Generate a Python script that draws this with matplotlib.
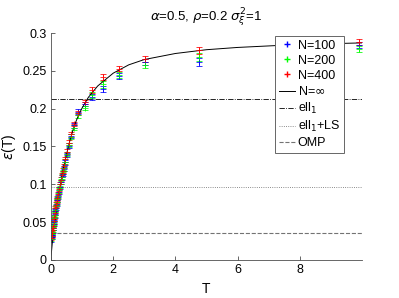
import numpy as np
import matplotlib
matplotlib.use("Agg")
import matplotlib.pyplot as plt
from matplotlib.lines import Line2D

# sample points (T) shared by the three finite-N series
T = [0.01, 0.02, 0.03, 0.04, 0.05, 0.06, 0.08, 0.10, 0.12, 0.14, 0.16, 0.18, 0.20, 0.22,
     0.25, 0.28, 0.31, 0.34, 0.37, 0.40, 0.45, 0.50, 0.57, 0.645, 0.73, 0.88, 1.08, 1.32,
     1.66, 2.18, 3.03, 4.75, 9.9]

eps_400 = [0.029, 0.032, 0.035, 0.039, 0.042, 0.045, 0.051, 0.057, 0.062, 0.068, 0.073,
           0.078, 0.082, 0.087, 0.094, 0.100, 0.106, 0.112, 0.118, 0.124, 0.133, 0.143,
           0.155, 0.166, 0.180, 0.194, 0.209, 0.225, 0.242, 0.253, 0.266, 0.277, 0.288]
eps_200 = [0.028, 0.031, 0.034, 0.037, 0.040, 0.043, 0.049, 0.055, 0.060, 0.066, 0.071,
           0.076, 0.080, 0.085, 0.092, 0.098, 0.104, 0.110, 0.116, 0.121, 0.130, 0.140,
           0.152, 0.163, 0.175, 0.191, 0.201, 0.218, 0.232, 0.245, 0.258, 0.268, 0.279]
eps_100 = [0.027, 0.030, 0.033, 0.036, 0.039, 0.042, 0.048, 0.053, 0.059, 0.064, 0.069,
           0.074, 0.079, 0.083, 0.090, 0.097, 0.103, 0.109, 0.114, 0.120, 0.129, 0.139,
           0.151, 0.164, 0.178, 0.196, 0.206, 0.215, 0.226, 0.243, 0.262, 0.262, 0.284]

err_400 = [0.003]*22 + [0.003, 0.003, 0.003, 0.003, 0.003, 0.004, 0.004, 0.003, 0.004, 0.005, 0.004]
err_200 = [0.003]*22 + [0.003, 0.003, 0.003, 0.003, 0.003, 0.004, 0.004, 0.004, 0.004, 0.005, 0.004]
err_100 = [0.003]*22 + [0.003, 0.003, 0.003, 0.003, 0.003, 0.004, 0.004, 0.004, 0.004, 0.005, 0.004]

# N = infinity theory curve
T_inf = [0, 0.05, 0.1, 0.2, 0.3, 0.4, 0.5, 0.6, 0.7, 0.8, 0.9, 1.0, 1.2, 1.5, 2.0, 2.5,
         3.0, 4.0, 5.0, 6.0, 7.0, 8.0, 9.0, 10.0]
eps_inf = [0.005, 0.027, 0.045, 0.075, 0.100, 0.122, 0.140, 0.157, 0.171, 0.183, 0.193,
           0.201, 0.215, 0.230, 0.247, 0.258, 0.265, 0.273, 0.278, 0.281, 0.283, 0.285,
           0.286, 0.287]

# reference levels
ell1 = 0.213
ell1_ls = 0.096
omp = 0.036

plt.rcParams['font.family'] = ['Liberation Sans', 'DejaVu Sans']
plt.rcParams['mathtext.fontset'] = 'dejavusans'

fig = plt.figure(figsize=(3.99, 2.98), dpi=100)
ax = fig.add_axes([0.128, 0.128, 0.779, 0.761])

series = [(eps_100, err_100, (0, 0, 1), 'N=100'),
          (eps_200, err_200, (0, 1, 0), 'N=200'),
          (eps_400, err_400, (1, 0, 0), 'N=400')]
handles = []
for e, er, c, lab in series:
  ax.errorbar(T, e, yerr=er, fmt='+', color=c, ms=4, mew=0.7, elinewidth=0.7,
              capsize=2.5, capthick=0.7, alpha=0.8)
  handles.append(Line2D([], [], ls='none', marker='+', color=c, mec=c, ms=5, mew=1.0, label=lab))

l_inf, = ax.plot(T_inf, eps_inf, '-', color='black', lw=0.7, label=r'N=$\infty$')
l_ell = ax.axhline(ell1, color='black', ls='-.', lw=0.6, label=r'ell$_1$')
l_ls = ax.axhline(ell1_ls, color='0.4', ls=':', lw=0.6, label=r'ell$_1$+LS')
l_omp = ax.axhline(omp, color='0.45', ls='--', lw=0.8, label='OMP')
handles += [l_inf, l_ell, l_ls, l_omp]

ax.set_xlim(0, 10)
ax.set_ylim(0, 0.3)
ax.set_xticks([0, 2, 4, 6, 8])
ax.set_yticks([0, 0.05, 0.1, 0.15, 0.2, 0.25, 0.3])
ax.set_yticklabels(['0', '0.05', '0.1', '0.15', '0.2', '0.25', '0.3'])
ax.tick_params(direction='in', labelsize=9, length=3, width=0.6, color='0.3', pad=3)
for s in ['top', 'right']:
  ax.spines[s].set_visible(False)
for s in ['left', 'bottom']:
  ax.spines[s].set_linewidth(0.6)
  ax.spines[s].set_color('0.3')

ax.set_xlabel('T', fontsize=10, labelpad=4)
ax.set_ylabel(r'$\epsilon$(T)', fontsize=10, labelpad=3)
ax.set_title(r'$\alpha$=0.5, $\rho$=0.2 $\sigma_\xi^2$=1', fontsize=9.5, pad=9)

leg = ax.legend(handles=handles, loc='upper right', bbox_to_anchor=(0.942, 0.988),
                fontsize=9, handlelength=1.3, handletextpad=0.2, labelspacing=0.25,
                borderpad=0.3, fancybox=False, framealpha=1, borderaxespad=0)
leg.get_frame().set_edgecolor('0.4')
leg.get_frame().set_linewidth(0.7)

fig.savefig('out.png', dpi=100)
